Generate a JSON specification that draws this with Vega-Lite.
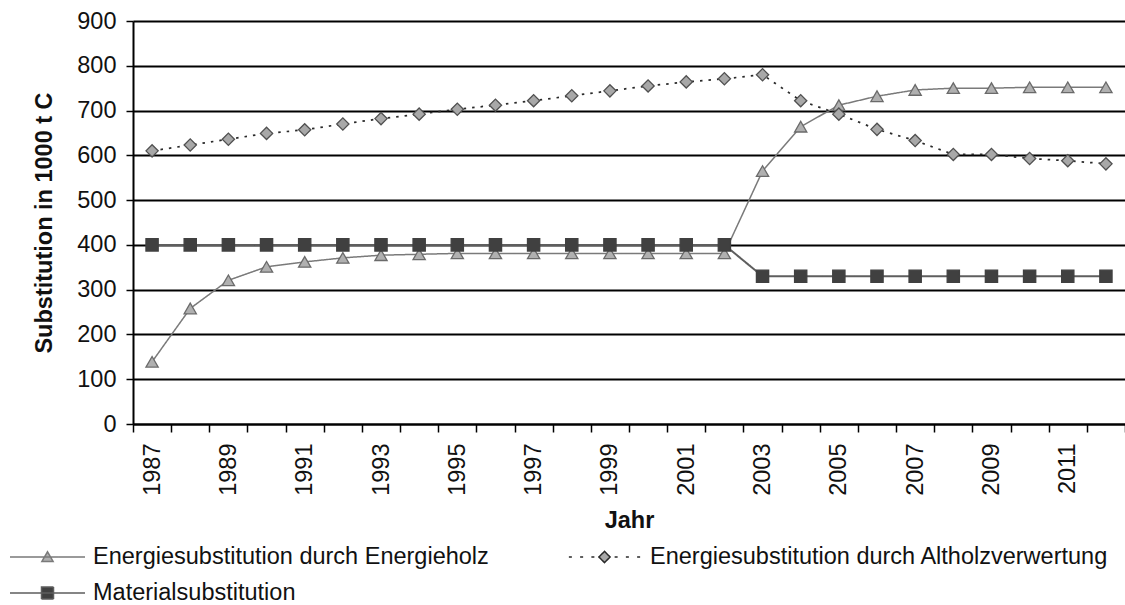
{
  "$schema": "https://vega.github.io/schema/vega-lite/v6.json",
  "width": 992,
  "height": 403,
  "autosize": {"type": "none"},
  "padding": {"left": 133, "top": 21, "right": 0, "bottom": 181},
  "background": "white",
  "config": {
    "font": "Liberation Sans",
    "view": {"stroke": null},
    "axis": {
      "labelFont": "Liberation Sans",
      "titleFont": "Liberation Sans",
      "labelFontSize": 23.5,
      "titleFontSize": 23.5,
      "labelColor": "#111111",
      "titleColor": "#111111",
      "titleFontWeight": "bold",
      "domainColor": "#000000",
      "domainWidth": 2,
      "tickColor": "#000000",
      "tickWidth": 1.5
    },
    "legend": {"labelFont": "Liberation Sans"}
  },
  "data": {
    "values": [
      {"Jahr": 1987, "Energiesubstitution durch Energieholz": 139, "Energiesubstitution durch Altholzverwertung": 610, "Materialsubstitution": 400},
      {"Jahr": 1988, "Energiesubstitution durch Energieholz": 258, "Energiesubstitution durch Altholzverwertung": 623, "Materialsubstitution": 400},
      {"Jahr": 1989, "Energiesubstitution durch Energieholz": 321, "Energiesubstitution durch Altholzverwertung": 636, "Materialsubstitution": 400},
      {"Jahr": 1990, "Energiesubstitution durch Energieholz": 351, "Energiesubstitution durch Altholzverwertung": 649, "Materialsubstitution": 400},
      {"Jahr": 1991, "Energiesubstitution durch Energieholz": 362, "Energiesubstitution durch Altholzverwertung": 657, "Materialsubstitution": 400},
      {"Jahr": 1992, "Energiesubstitution durch Energieholz": 371, "Energiesubstitution durch Altholzverwertung": 670, "Materialsubstitution": 400},
      {"Jahr": 1993, "Energiesubstitution durch Energieholz": 377, "Energiesubstitution durch Altholzverwertung": 682, "Materialsubstitution": 400},
      {"Jahr": 1994, "Energiesubstitution durch Energieholz": 379, "Energiesubstitution durch Altholzverwertung": 692, "Materialsubstitution": 400},
      {"Jahr": 1995, "Energiesubstitution durch Energieholz": 381, "Energiesubstitution durch Altholzverwertung": 703, "Materialsubstitution": 400},
      {"Jahr": 1996, "Energiesubstitution durch Energieholz": 381, "Energiesubstitution durch Altholzverwertung": 712, "Materialsubstitution": 400},
      {"Jahr": 1997, "Energiesubstitution durch Energieholz": 381, "Energiesubstitution durch Altholzverwertung": 722, "Materialsubstitution": 400},
      {"Jahr": 1998, "Energiesubstitution durch Energieholz": 381, "Energiesubstitution durch Altholzverwertung": 733, "Materialsubstitution": 400},
      {"Jahr": 1999, "Energiesubstitution durch Energieholz": 381, "Energiesubstitution durch Altholzverwertung": 744, "Materialsubstitution": 400},
      {"Jahr": 2000, "Energiesubstitution durch Energieholz": 381, "Energiesubstitution durch Altholzverwertung": 755, "Materialsubstitution": 400},
      {"Jahr": 2001, "Energiesubstitution durch Energieholz": 381, "Energiesubstitution durch Altholzverwertung": 764, "Materialsubstitution": 400},
      {"Jahr": 2002, "Energiesubstitution durch Energieholz": 381, "Energiesubstitution durch Altholzverwertung": 771, "Materialsubstitution": 400},
      {"Jahr": 2003, "Energiesubstitution durch Energieholz": 565, "Energiesubstitution durch Altholzverwertung": 780, "Materialsubstitution": 330},
      {"Jahr": 2004, "Energiesubstitution durch Energieholz": 664, "Energiesubstitution durch Altholzverwertung": 722, "Materialsubstitution": 330},
      {"Jahr": 2005, "Energiesubstitution durch Energieholz": 712, "Energiesubstitution durch Altholzverwertung": 692, "Materialsubstitution": 330},
      {"Jahr": 2006, "Energiesubstitution durch Energieholz": 732, "Energiesubstitution durch Altholzverwertung": 658, "Materialsubstitution": 330},
      {"Jahr": 2007, "Energiesubstitution durch Energieholz": 746, "Energiesubstitution durch Altholzverwertung": 633, "Materialsubstitution": 330},
      {"Jahr": 2008, "Energiesubstitution durch Energieholz": 750, "Energiesubstitution durch Altholzverwertung": 602, "Materialsubstitution": 330},
      {"Jahr": 2009, "Energiesubstitution durch Energieholz": 750, "Energiesubstitution durch Altholzverwertung": 602, "Materialsubstitution": 330},
      {"Jahr": 2010, "Energiesubstitution durch Energieholz": 752, "Energiesubstitution durch Altholzverwertung": 593, "Materialsubstitution": 330},
      {"Jahr": 2011, "Energiesubstitution durch Energieholz": 752, "Energiesubstitution durch Altholzverwertung": 588, "Materialsubstitution": 330},
      {"Jahr": 2012, "Energiesubstitution durch Energieholz": 752, "Energiesubstitution durch Altholzverwertung": 581, "Materialsubstitution": 330}
    ]
  },
  "transform": [
    {"fold": ["Energiesubstitution durch Energieholz", "Energiesubstitution durch Altholzverwertung", "Materialsubstitution"], "as": ["series", "value"]}
  ],
  "encoding": {
    "x": {
      "field": "Jahr",
      "type": "ordinal",
      "scale": {"type": "band", "paddingInner": 0, "paddingOuter": 0},
      "axis": {
        "title": "Jahr",
        "tickBand": "extent",
        "labelAngle": 270,
        "labelExpr": "datum.value % 2 == 1 ? datum.label : ''",
        "labelOverlap": false,
        "labelPadding": 11,
        "tickSize": 8,
        "titlePadding": 13,
        "grid": false
      }
    },
    "y": {
      "field": "value",
      "type": "quantitative",
      "scale": {"domain": [0, 900], "nice": false},
      "axis": {
        "title": "Substitution in 1000 t C",
        "values": [0, 100, 200, 300, 400, 500, 600, 700, 800, 900],
        "grid": true,
        "gridColor": "#000000",
        "gridWidth": 1.8,
        "gridOpacity": 1,
        "tickSize": 7,
        "labelPadding": 10,
        "titlePadding": 20
      }
    }
  },
  "layer": [
    {
      "mark": {"type": "line"},
      "encoding": {
        "stroke": {
          "field": "series",
          "type": "nominal",
          "scale": {
            "domain": ["Energiesubstitution durch Energieholz", "Materialsubstitution", "Energiesubstitution durch Altholzverwertung"],
            "range": ["#7a7a7a", "#5e5e5e", "#2a2a2a"]
          },
          "legend": {
            "orient": "none",
            "legendX": -124,
            "legendY": 524,
            "columns": 2,
            "columnPadding": 77,
            "rowPadding": 12,
            "clipHeight": 24,
            "symbolSize": 5625,
            "symbolStrokeWidth": 1.5,
            "labelFontSize": 23.5,
            "labelColor": "#111111",
            "labelOffset": 7,
            "labelLimit": 700,
            "title": null,
            "padding": 0,
            "encode": {
              "symbols": {
                "update": {
                  "shape": {"signal": "datum.value == 'Materialsubstitution' ? 'M-1,0H1M-0.16,-0.16H0.16V0.16H-0.16Z' : (datum.value == 'Energiesubstitution durch Energieholz' ? 'M-1,0H1M0,-0.14L0.15,0.12H-0.15Z' : 'M-0.95,0H-0.87M-0.65,0H-0.57M-0.35,0H-0.27M0.27,0H0.35M0.57,0H0.65M0.87,0H0.95M0,-0.15L0.15,0L0,0.15L-0.15,0Z')"},
                  "fill": {"signal": "datum.value == 'Materialsubstitution' ? '#404040' : (datum.value == 'Energiesubstitution durch Energieholz' ? '#b0b0b0' : '#a8a8a8')"},
                  "stroke": {"signal": "datum.value == 'Materialsubstitution' ? '#4a4a4a' : (datum.value == 'Energiesubstitution durch Energieholz' ? '#6a6a6a' : '#333333')"},
                  "strokeDash": {"value": [1, 0]},
                  "opacity": {"value": 1}
                }
              }
            }
          }
        },
        "strokeDash": {
          "field": "series",
          "type": "nominal",
          "scale": {
            "domain": ["Energiesubstitution durch Energieholz", "Energiesubstitution durch Altholzverwertung", "Materialsubstitution"],
            "range": [[1, 0], [2.5, 6], [1, 0]]
          },
          "legend": null
        },
        "strokeWidth": {
          "field": "series",
          "type": "nominal",
          "scale": {
            "domain": ["Energiesubstitution durch Energieholz", "Energiesubstitution durch Altholzverwertung", "Materialsubstitution"],
            "range": [1.5, 2, 1.5]
          },
          "legend": null
        }
      }
    },
    {
      "mark": {"type": "point", "filled": true, "size": 150, "strokeWidth": 1.3, "opacity": 1},
      "encoding": {
        "shape": {
          "field": "series",
          "type": "nominal",
          "scale": {
            "domain": ["Energiesubstitution durch Energieholz", "Energiesubstitution durch Altholzverwertung", "Materialsubstitution"],
            "range": ["triangle-up", "diamond", "square"]
          },
          "legend": null
        },
        "fill": {
          "field": "series",
          "type": "nominal",
          "scale": {
            "domain": ["Energiesubstitution durch Energieholz", "Energiesubstitution durch Altholzverwertung", "Materialsubstitution"],
            "range": ["#b0b0b0", "#a8a8a8", "#404040"]
          },
          "legend": null
        },
        "stroke": {
          "field": "series",
          "type": "nominal",
          "scale": {
            "domain": ["Energiesubstitution durch Energieholz", "Energiesubstitution durch Altholzverwertung", "Materialsubstitution"],
            "range": ["#6a6a6a", "#505050", "#404040"]
          },
          "legend": null
        }
      }
    }
  ],
  "resolve": {"scale": {"stroke": "independent"}}
}
